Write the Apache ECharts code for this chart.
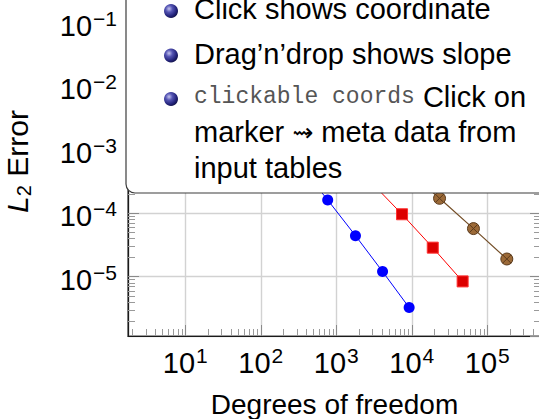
<!DOCTYPE html>
<html>
<head>
<meta charset="utf-8">
<script src="https://cdn.jsdelivr.net/npm/echarts@6/dist/echarts.min.js"></script>
<style>
  html, body { margin: 0; padding: 0; background: #ffffff; }
  #chart { width: 539px; height: 419px; }
</style>
</head>
<body>
<div id="chart"></div>
<script>
// Convergence study: degrees of freedom vs. L2 error, one series per dimension
const dofD2 = [5, 17, 49, 129, 321, 769, 1793, 4097, 9217];
const errD2 = [8.312e-2, 2.547e-2, 7.407e-3, 2.102e-3, 5.874e-4, 1.623e-4, 4.442e-5, 1.207e-5, 3.261e-6];
const dofD3 = [7, 31, 111, 351, 1023, 2815, 7423, 18943, 47103];
const errD3 = [8.472e-2, 3.044e-2, 1.022e-2, 3.303e-3, 1.039e-3, 3.196e-4, 9.658e-5, 2.873e-5, 8.437e-6];
const dofD4 = [9, 49, 209, 769, 2561, 7937, 23297, 65537, 181249];
const errD4 = [7.881e-2, 3.243e-2, 1.232e-2, 4.454e-3, 1.551e-3, 5.236e-4, 1.723e-4, 5.742e-5, 1.903e-5];

// Axis ranges given as decade exponents
const xRangeExp = [0.241, 5.711];
const yRangeExp = [-5.935, -0.636];

// Feature list shown in the rounded info panel
const infoLines = [
  { bullet: true,  text: 'Click shows coordinate' },
  { bullet: true,  text: "Drag\u2019n\u2019drop shows slope" },
  { bullet: true,  text: '{tt|clickable coords} Click on' },
  { bullet: false, text: 'marker {arr|\u21DD} meta data from' },
  { bullet: false, text: 'input tables' }
];
const infoBaselines = [19, 63.5, 107, 142, 177.5];

const FONT = '"Liberation Sans", Arial, Helvetica, sans-serif';

function zip(xs, ys) { return xs.map((x, i) => [x, ys[i]]); }

// Log-spaced minor tick positions (2..9 times each power of ten), in exponent units
function minorTickExps(range) {
  const out = [];
  for (let n = Math.floor(range[0]) - 1; n <= Math.ceil(range[1]); n++) {
    for (let k = 2; k <= 9; k++) {
      const v = n + Math.log10(k);
      if (v > range[0] && v < range[1]) out.push(v);
    }
  }
  return out;
}

function powerLabel(v) {
  const e = Math.round(Math.log10(v));
  return '{b|10}{sup|' + String(e).replace('-', '\u2212') + '}';
}

const tickRich = {
  b:   { fontFamily: FONT, fontSize: 29, lineHeight: 36, color: '#000' },
  sup: { fontFamily: FONT, fontSize: 21, lineHeight: 24, verticalAlign: 'top', padding: [0, 0, 0, 1], color: '#000' }
};

const gridLine = { show: true, lineStyle: { color: '#d2d2d2', width: 1.4 } };
const majorTick = { show: true, inside: true, length: 11, lineStyle: { color: '#8a8a8a', width: 1 } };

function minorAxis(range, position) {
  return {
    type: 'value',
    position: position,
    min: range[0],
    max: range[1],
    axisLine: { show: false, onZero: false },
    axisLabel: { show: false },
    splitLine: { show: false },
    axisTick: {
      show: true, inside: true, length: 7,
      customValues: minorTickExps(range),
      lineStyle: { color: '#9a9a9a', width: 1 }
    }
  };
}

function majorOnlyAxis(range, position) {
  return {
    type: 'log',
    logBase: 10,
    position: position,
    min: Math.pow(10, range[0]),
    max: Math.pow(10, range[1]),
    axisLine: { show: false, onZero: false },
    axisLabel: { show: false },
    splitLine: { show: false },
    axisTick: majorTick
  };
}

// Otimes marker: filled disc with a diagonal cross
const otimesPath = 'path://M0,-10A10,10,0,1,1,0,10A10,10,0,1,1,0,-10Z' +
  'M-7.07,-7.07L7.07,7.07M-7.07,7.07L7.07,-7.07';

const ballFill = new echarts.graphic.RadialGradient(0.36, 0.34, 0.7, [
  { offset: 0, color: '#c4c4ee' },
  { offset: 0.35, color: '#5555b4' },
  { offset: 0.75, color: '#24247c' },
  { offset: 1, color: '#12124a' }
]);

const graphics = [
  {
    type: 'rect',
    z: 100,
    shape: { x: 126, y: -40, width: 460, height: 233, r: 9 },
    style: { fill: '#ffffff', stroke: '#3c3c3c', lineWidth: 1.2 }
  }
];
infoLines.forEach((item, i) => {
  const base = infoBaselines[i];
  if (item.bullet) {
    graphics.push({
      type: 'circle', z: 101,
      shape: { cx: 171, cy: base - 8, r: 7 },
      style: { fill: ballFill }
    });
  }
  graphics.push({
    type: 'text', z: 101,
    x: 194, y: base - 10,
    style: {
      text: item.text,
      fontFamily: FONT, fontSize: 29, fill: '#000',
      verticalAlign: 'middle', align: 'left',
      rich: {
        tt: { fontFamily: '"Liberation Mono", "DejaVu Sans Mono", monospace', fontSize: 23, fill: '#555555' },
        arr: { fontFamily: '"DejaVu Sans", sans-serif', fontSize: 25, fill: '#000' }
      }
    }
  });
});

const chart = echarts.init(document.getElementById('chart'), null, { renderer: 'svg' });

chart.setOption({
  animation: false,
  backgroundColor: '#ffffff',
  grid: {
    left: 128, top: 0, width: 413, height: 336,
    outerBoundsMode: 'none',
    show: true, borderColor: '#1a1a1a', borderWidth: 1.2
  },
  xAxis: [
    {
      type: 'log',
      logBase: 10,
      position: 'bottom',
      min: Math.pow(10, xRangeExp[0]),
      max: Math.pow(10, xRangeExp[1]),
      name: 'Degrees of freedom',
      nameLocation: 'middle',
      nameGap: 54,
      nameTextStyle: { fontFamily: FONT, fontSize: 28, color: '#000' },
      axisLine: { show: true, onZero: false, lineStyle: { color: '#1a1a1a', width: 1.2 } },
      axisTick: majorTick,
      splitLine: gridLine,
      axisLabel: {
        show: true, margin: 9,
        showMinLabel: false, showMaxLabel: false,
        formatter: powerLabel,
        rich: tickRich
      }
    },
    minorAxis(xRangeExp, 'bottom')
  ],
  yAxis: [
    {
      type: 'log',
      logBase: 10,
      position: 'left',
      min: Math.pow(10, yRangeExp[0]),
      max: Math.pow(10, yRangeExp[1]),
      name: '{it|L}{sub|2} Error',
      nameLocation: 'middle',
      nameRotate: 90,
      nameGap: 94,
      nameTextStyle: {
        fontFamily: FONT, fontSize: 30, color: '#000',
        padding: [0, 0, 0, 13],
        rich: {
          it: { fontFamily: FONT, fontSize: 30, fontStyle: 'italic', lineHeight: 34, color: '#000' },
          sub: { fontFamily: FONT, fontSize: 20, lineHeight: 23, verticalAlign: 'bottom', color: '#000' }
        }
      },
      axisLine: { show: true, onZero: false, lineStyle: { color: '#1a1a1a', width: 1.2 } },
      axisTick: majorTick,
      splitLine: gridLine,
      axisLabel: {
        show: true, margin: 11,
        padding: [6, 0, 0, 0],
        showMinLabel: false, showMaxLabel: false,
        formatter: powerLabel,
        rich: tickRich
      }
    },
    minorAxis(yRangeExp, 'left'),
    minorAxis(yRangeExp, 'right'),
    majorOnlyAxis(yRangeExp, 'right')
  ],
  series: [
    {
      name: 'd=2', type: 'line',
      data: zip(dofD2, errD2),
      symbol: 'circle', symbolSize: 11,
      lineStyle: { color: '#0000ff', width: 1 },
      itemStyle: { color: '#0000ff' },
      z: 10
    },
    {
      name: 'd=3', type: 'line',
      data: zip(dofD3, errD3),
      symbol: 'rect', symbolSize: 11,
      lineStyle: { color: '#ff0000', width: 1 },
      itemStyle: { color: '#dc0000', borderColor: '#ff3030', borderWidth: 1 },
      z: 11
    },
    {
      name: 'd=4', type: 'line',
      data: zip(dofD4, errD4),
      symbol: otimesPath, symbolSize: 12,
      lineStyle: { color: '#734d26', width: 1.2 },
      itemStyle: { color: '#9c6a38', borderColor: '#5a3a1c', borderWidth: 1 },
      z: 12
    }
  ],
  graphic: graphics
});
</script>
</body>
</html>
